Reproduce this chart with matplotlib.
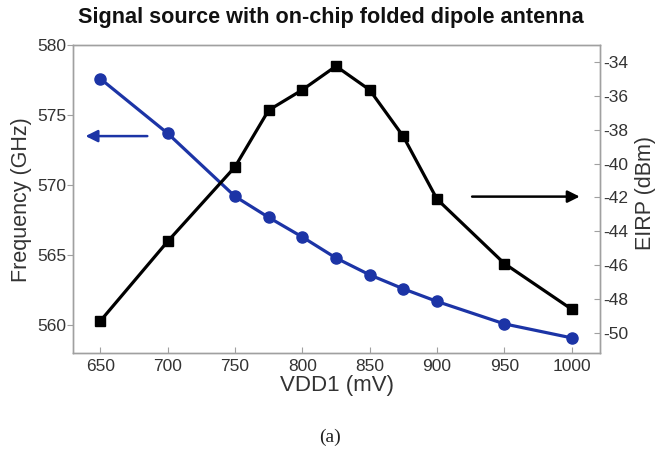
import matplotlib
matplotlib.use("Agg")
import matplotlib.pyplot as plt

vdd1 = [650, 700, 750, 775, 800, 825, 850, 875, 900, 950, 1000]
freq_ghz = [577.6, 573.7, 569.2, 567.7, 566.3, 564.8, 563.6, 562.6, 561.7, 560.1, 559.1]
eirp_dbm = [-49.3, -44.6, -40.2, -36.85, -35.65, -34.25, -35.65, -38.4, -42.1, -45.9, -48.6]
xticks = [650, 700, 750, 800, 850, 900, 950, 1000]
lticks = [560, 565, 570, 575, 580]
rticks = [-50, -48, -46, -44, -42, -40, -38, -36, -34]

plt.rcParams['font.family'] = ['Liberation Sans', 'DejaVu Sans']
plt.rcParams['axes.unicode_minus'] = False

W, H = 658, 449
fig = plt.figure(figsize=(W / 100, H / 100), dpi=100)
ax = fig.add_axes([73.3 / W, 1 - 353.3 / H, (600 - 73.3) / W, (353.3 - 45) / H])
ax2 = ax.twinx()

blue = '#1c34a6'
spine_c = '#a0a0a0'
txt_c = '#333333'

ax.plot(vdd1, freq_ghz, color=blue, lw=2.3, marker='o', ms=8, zorder=3)
ax2.plot(vdd1, eirp_dbm, color='black', lw=2.3, marker='s', ms=6.5, zorder=3)

ax.set_xlim(630, 1021)
ax.set_ylim(558, 580)
ax2.set_ylim(-51.2, -33)
ax.set_xticks(xticks)
ax.set_yticks(lticks)
ax2.set_yticks(rticks)

for a in (ax, ax2):
    for s in a.spines.values():
        s.set_color(spine_c)
        s.set_linewidth(1.0)

ax.tick_params(axis='x', direction='in', length=4, pad=4, labelsize=12.5,
               colors=spine_c, labelcolor=txt_c)
ax.tick_params(axis='y', direction='out', length=4, pad=1, labelsize=12.5,
               colors=spine_c, labelcolor=txt_c)
ax2.tick_params(axis='y', direction='in', length=4, pad=2, labelsize=12.5,
                colors=spine_c, labelcolor=txt_c)

ax.set_xlabel('VDD1 (mV)', fontsize=16, color=txt_c, labelpad=1)
ax.set_ylabel('Frequency (GHz)', fontsize=15.5, color=txt_c, labelpad=4)
ax2.set_ylabel('EIRP (dBm)', fontsize=15.5, color=txt_c)
ax2.yaxis.set_label_coords(1.066, 0.52)

ax.annotate('', xy=(637, 573.5), xytext=(687, 573.5),
            arrowprops=dict(arrowstyle='-|>', color=blue, lw=1.8,
                            mutation_scale=18), zorder=4)
ax2.annotate('', xy=(1008, -41.95), xytext=(924, -41.95),
             arrowprops=dict(arrowstyle='-|>', color='black', lw=1.8,
                             mutation_scale=18), zorder=4)

fig.text(330.5 / W, 1 - 17 / H, 'Signal source with on-chip folded dipole antenna',
         ha='center', va='center', fontsize=15.6, fontweight='bold', color='#111111')
fig.text(330 / W, 1 - 437 / H, '(a)', ha='center', va='center', fontsize=14,
         family=['Liberation Serif', 'DejaVu Serif'], color='#222222')

fig.savefig('out.png', dpi=100)
